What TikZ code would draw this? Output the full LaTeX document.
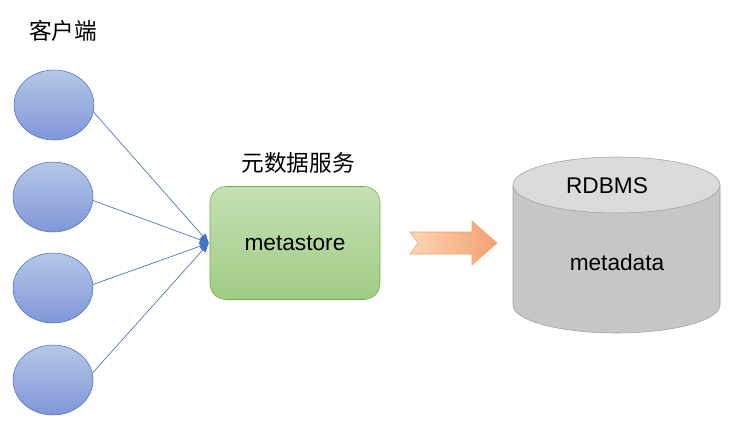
\documentclass[tikz,border=0pt]{standalone}
\usepackage{fontspec}
\setmainfont{Liberation Sans}
\newfontfamily\cjk{Noto Sans CJK SC}
\usetikzlibrary{shapes.geometric,arrows.meta}
\definecolor{cb1}{HTML}{B4C7E7}
\definecolor{cb2}{HTML}{8096D8}
\definecolor{cbd}{HTML}{4472C4}
\definecolor{g1}{HTML}{C5E0B4}
\definecolor{g2}{HTML}{A0CC84}
\definecolor{gd}{HTML}{70AD47}
\definecolor{o1}{HTML}{FBD5B5}
\definecolor{o2}{HTML}{F4A070}
\begin{document}
\begin{tikzpicture}[x=0.75pt,y=-0.75pt,
  cl/.style={ellipse,minimum width=80*0.75pt,minimum height=70*0.75pt,draw=cbd,top color=cb1,bottom color=cb2,inner sep=0},
  ln/.style={draw=cbd,line width=0.5pt,-{Latex[length=7pt,width=6pt]}},
  lbl/.style={font=\fontsize{17}{19}\selectfont}]
\useasboundingbox (0,0) rectangle (743,436);
\node[lbl] (t1) at (63,31) {\cjk 客户端};
\node[cl] (c1) at (54,105) {};
\node[cl] (c2) at (53,197) {};
\node[cl] (c3) at (53,288) {};
\node[cl] (c4) at (53,380) {};
\node[lbl] (t2) at (298,163) {\cjk 元数据服务};
\node[draw=gd,rounded corners=12pt,minimum width=170*0.75pt,minimum height=113*0.75pt,top color=g1,bottom color=g2] (m) at (295,243) {};
\node[lbl] (mt) at (295,243) {metastore};
\coordinate (tip) at (209,243);
\foreach \c/\a in {c1/-10,c2/-5,c3/5,c4/10}
  \draw[ln] (\c.\a) -- (tip);
\draw[draw=o2,left color=o1,right color=o2] (410,232) -- (472,232) -- (472,221) -- (497,243) -- (472,265) -- (472,254) -- (410,254) -- (418,243) -- cycle;
\fill[gray!45] (513,185) -- (513,305) arc[start angle=180,end angle=0,x radius=103.5,y radius=28] -- (720,185) -- cycle;
\draw[gray!75] (513,185) -- (513,305) arc[start angle=180,end angle=0,x radius=103.5,y radius=28] -- (720,185);
\draw[gray!75,fill=gray!28] (616.5,185) ellipse[x radius=103.5,y radius=28];
\node[lbl] (r) at (607,186) {RDBMS};
\node[lbl] (d) at (617,262) {metadata};
\end{tikzpicture}
\end{document}
